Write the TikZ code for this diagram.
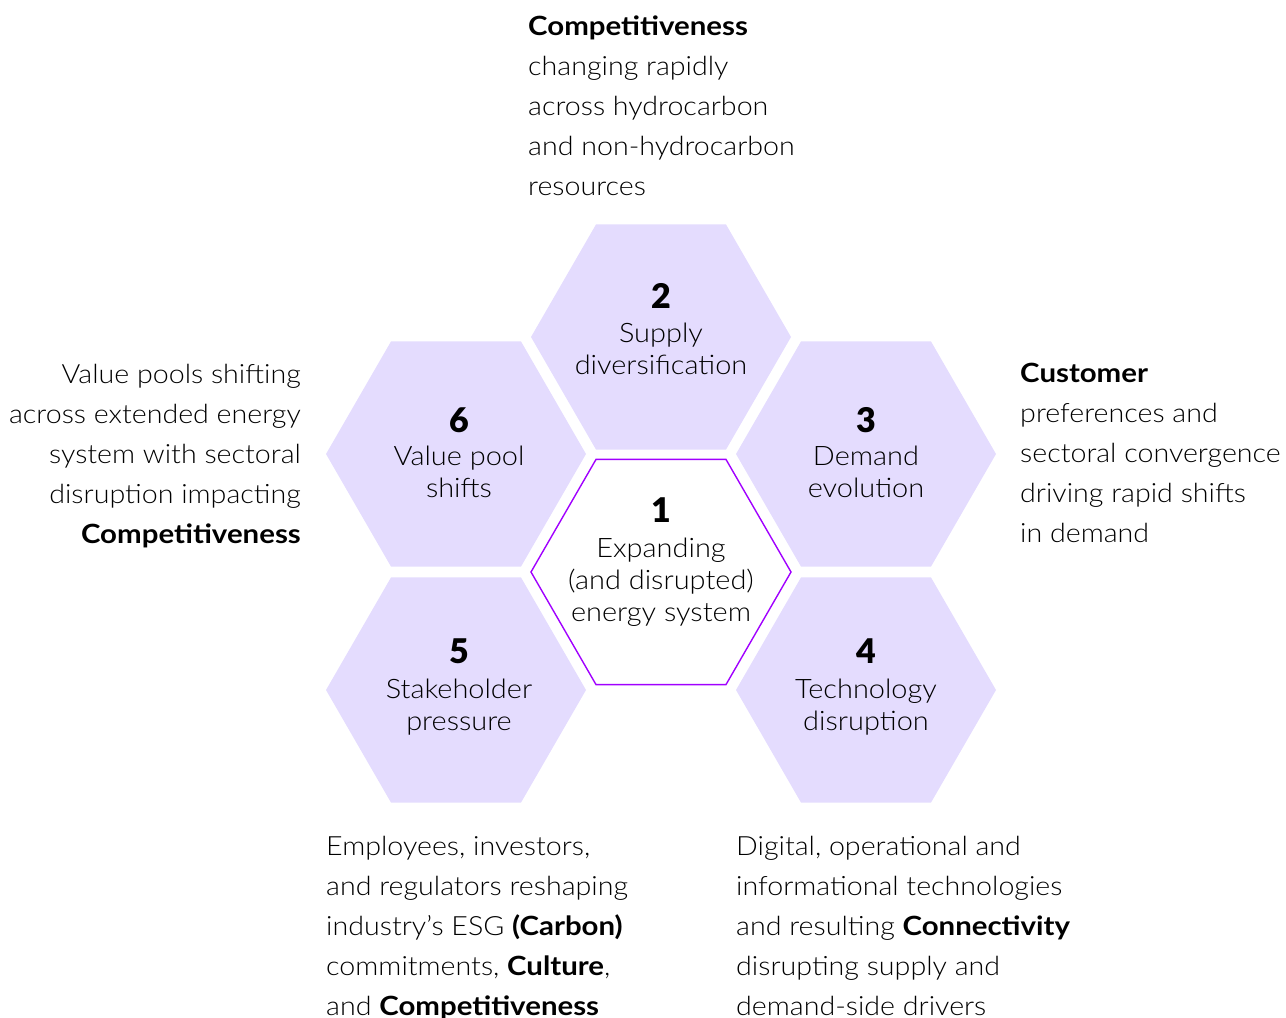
\documentclass[tikz,border=0pt]{standalone}
\usepackage{fontspec}
\setmainfont{Lato}[UprightFont=* Light, BoldFont=* Bold,
  UprightFeatures={FakeStretch=1.08}, BoldFeatures={FakeStretch=1.11}]
\newfontfamily\numfont{Lato Black}
\usetikzlibrary{calc}
\definecolor{hexlilac}{HTML}{E4DCFE}
\definecolor{hexpurple}{HTML}{A100FF}
\tikzset{
  hexfill/.style={fill=hexlilac},
  hexline/.style={draw=hexpurple, fill=white, line width=1.4pt},
  numlabel/.style={anchor=base, inner sep=0pt, font=\numfont\fontsize{34}{34}\selectfont},
  hexlabel/.style={anchor=north, inner sep=0pt, align=center, font=\fontsize{26.8}{32}\selectfont},
  sidetext/.style={inner sep=0pt, font=\fontsize{26.5}{40}\selectfont}
}
\newcommand{\hexpath}[1]{(#1) +(0:130) -- +(60:130) -- +(120:130) -- +(180:130) -- +(240:130) -- +(300:130) -- cycle}
\begin{document}
\begin{tikzpicture}[x=1pt, y=-1pt]
  \useasboundingbox (0,0) rectangle (1286,1018);

  % hexagon centres
  \coordinate (c1) at (661,572);
  \coordinate (c2) at (661,337);
  \coordinate (c3) at (866,454);
  \coordinate (c4) at (866,690);
  \coordinate (c5) at (456,690);
  \coordinate (c6) at (456,454);

  % outer ring of filled hexagons
  \foreach \c in {c2,c3,c4,c5,c6}
    \path[hexfill] \hexpath{\c};
  % central outlined hexagon
  \path[hexline] \hexpath{c1};

  % hexagon labels
  \node[numlabel] (n1) at ($(c1)+(0,-50)$) {1};
  \node[hexlabel] (t1) at ($(c1)+(0,-37.4)$) {\strut Expanding\\(and disrupted)\\energy system};

  \node[numlabel] (n2) at ($(c2)+(0,-29)$) {2};
  \node[hexlabel] (t2) at ($(c2)+(0,-17.4)$) {\strut Supply\\diversification};

  \node[numlabel] (n3) at ($(c3)+(0,-22)$) {3};
  \node[hexlabel] (t3) at ($(c3)+(0,-11.4)$) {\strut Demand\\evolution};

  \node[numlabel] (n4) at ($(c4)+(0,-27)$) {4};
  \node[hexlabel] (t4) at ($(c4)+(0,-14.4)$) {\strut Technology\\disruption};

  \node[numlabel] (n5) at ($(c5)+(3,-27)$) {5};
  \node[hexlabel] (t5) at ($(c5)+(3,-14.4)$) {\strut Stakeholder\\pressure};

  \node[numlabel] (n6) at ($(c6)+(3,-22)$) {6};
  \node[hexlabel] (t6) at ($(c6)+(3,-11.4)$) {\strut Value pool\\shifts};

  % descriptive texts around the honeycomb
  \node[sidetext, anchor=north west, align=left] (d2) at (528,7)
    {\strut\textbf{Competitiveness}\\changing rapidly\\across hydrocarbon\\and non-hydrocarbon\\resources};

  \node[sidetext, anchor=north east, align=right] (d6) at (301,355)
    {\strut Value pools shifting\\across extended energy\\system with sectoral\\disruption impacting\\\textbf{Competitiveness}};

  \node[sidetext, anchor=north west, align=left] (d3) at (1020,354)
    {\strut\textbf{Customer}\\preferences and\\sectoral convergence\\driving rapid shifts\\in demand};

  \node[sidetext, anchor=north west, align=left] (d5) at (326,827)
    {\strut Employees, investors,\\and regulators reshaping\\industry’s ESG \textbf{(Carbon)}\\commitments, \textbf{Culture},\\and \textbf{Competitiveness}};

  \node[sidetext, anchor=north west, align=left] (d4) at (736,827)
    {\strut Digital, operational and\\informational technologies\\and resulting \textbf{Connectivity}\\disrupting supply and\\demand-side drivers};
\end{tikzpicture}
\end{document}
